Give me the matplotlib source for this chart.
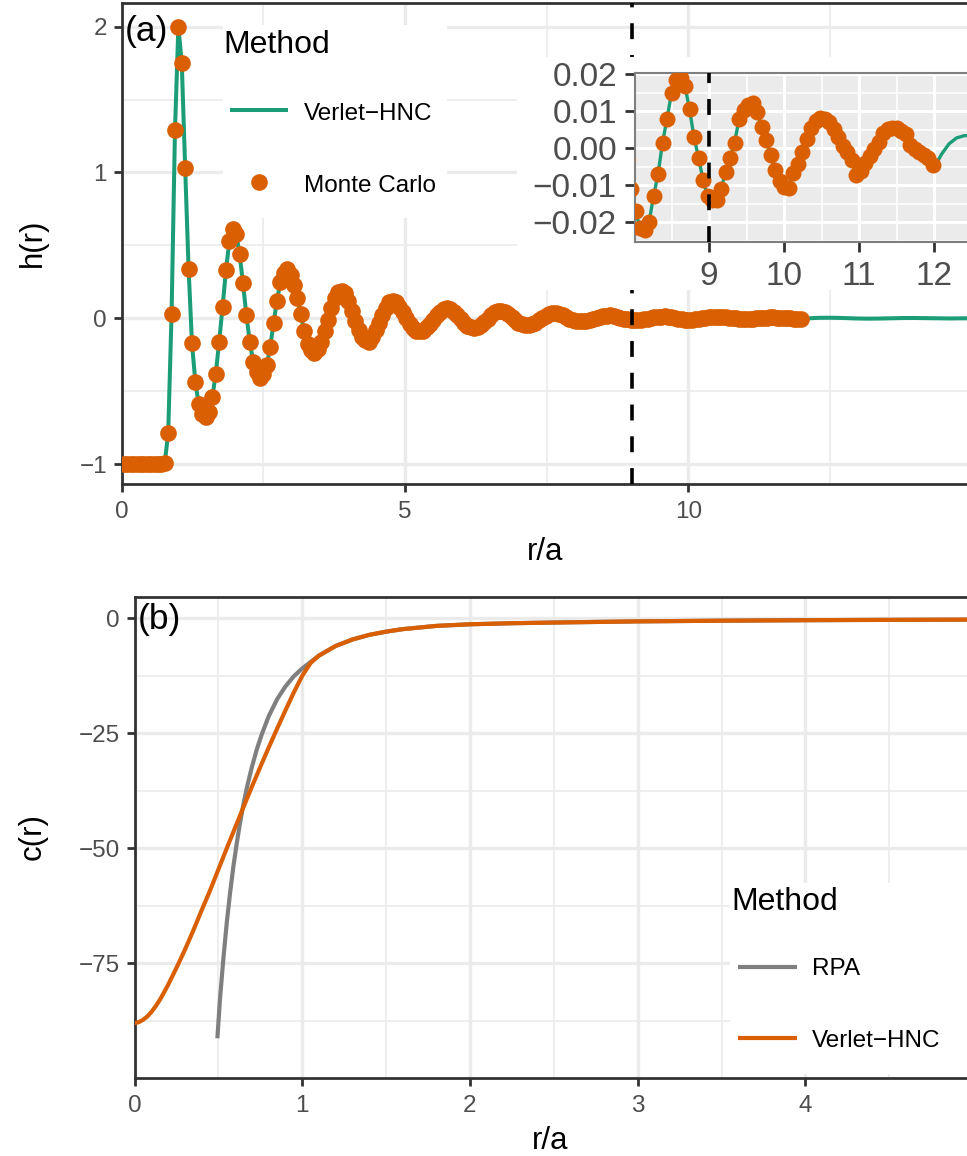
import numpy as np
import matplotlib
matplotlib.use("Agg")
import matplotlib.pyplot as plt
from matplotlib.patches import Rectangle
from matplotlib.lines import Line2D

plt.rcParams['font.family'] = ['Liberation Sans', 'DejaVu Sans']
plt.rcParams['axes.unicode_minus'] = True

# ---------------------------------------------------------------- data
# Monte Carlo pair correlation h(r)
mc_r = [0.04, 0.10, 0.16, 0.22, 0.28, 0.34, 0.40, 0.46, 0.52, 0.58,
        0.64, 0.70, 0.76, 0.82, 0.88, 0.94, 1.00, 1.06, 1.12, 1.18,
        1.24, 1.30, 1.36, 1.42, 1.48, 1.54, 1.60, 1.66, 1.72, 1.78,
        1.84, 1.90, 1.96, 2.02, 2.08, 2.14, 2.20, 2.26, 2.32, 2.38,
        2.44, 2.50, 2.56, 2.62, 2.68, 2.74, 2.80, 2.86, 2.92, 2.98,
        3.04, 3.10, 3.16, 3.22, 3.28, 3.34, 3.40, 3.46, 3.52, 3.58,
        3.64, 3.70, 3.76, 3.82, 3.88, 3.94, 4.00, 4.06, 4.12, 4.18,
        4.24, 4.30, 4.36, 4.42, 4.48, 4.54, 4.60, 4.66, 4.72, 4.78,
        4.84, 4.90, 4.96, 5.02, 5.08, 5.14, 5.20, 5.26, 5.32, 5.38,
        5.44, 5.50, 5.56, 5.62, 5.68, 5.74, 5.80, 5.86, 5.92, 5.98,
        6.04, 6.10, 6.16, 6.22, 6.28, 6.34, 6.40, 6.46, 6.52, 6.58,
        6.64, 6.70, 6.76, 6.82, 6.88, 6.94, 7.00, 7.06, 7.12, 7.18,
        7.24, 7.30, 7.36, 7.42, 7.48, 7.54, 7.60, 7.66, 7.72, 7.78,
        7.84, 7.90, 7.96, 8.02, 8.08, 8.14, 8.20, 8.26, 8.32, 8.38,
        8.44, 8.50, 8.56, 8.62, 8.68, 8.74, 8.80, 8.86, 8.92, 8.98,
        9.04, 9.10, 9.16, 9.22, 9.28, 9.34, 9.40, 9.46, 9.52, 9.58,
        9.64, 9.70, 9.76, 9.82, 9.88, 9.94, 10.00, 10.06, 10.12, 10.18,
        10.24, 10.30, 10.36, 10.42, 10.48, 10.54, 10.60, 10.66, 10.72, 10.78,
        10.84, 10.90, 10.96, 11.02, 11.08, 11.14, 11.20, 11.26, 11.32, 11.38,
        11.44, 11.50, 11.56, 11.62, 11.68, 11.74, 11.80, 11.86, 11.92, 11.98]
mc_h = [-1.00, -1.00, -1.00, -1.00, -1.00, -1.00, -1.00, -1.00, -1.00, -1.00,
        -1.00, -1.00, -0.99, -0.79, 0.03, 1.29, 2.00, 1.75, 1.03, 0.34,
        -0.17, -0.44, -0.59, -0.66, -0.68, -0.64, -0.54, -0.38, -0.16, 0.08,
        0.33, 0.53, 0.61, 0.58, 0.44, 0.24, 0.02, -0.16, -0.30, -0.37,
        -0.41, -0.38, -0.32, -0.20, -0.03, 0.12, 0.25, 0.31, 0.34, 0.30,
        0.23, 0.14, 0.03, -0.09, -0.18, -0.22, -0.24, -0.21, -0.16, -0.09,
        -0.01, 0.07, 0.14, 0.18, 0.19, 0.17, 0.12, 0.05, -0.02, -0.08,
        -0.13, -0.15, -0.16, -0.13, -0.08, -0.03, 0.02, 0.07, 0.11, 0.12,
        0.11, 0.08, 0.04, 0.00, -0.04, -0.07, -0.085, -0.09, -0.085, -0.06,
        -0.04, -0.01, 0.02, 0.045, 0.065, 0.07, 0.065, 0.045, 0.02, -0.005,
        -0.03, -0.05, -0.06, -0.065, -0.06, -0.045, -0.025, -0.005, 0.02, 0.04,
        0.05, 0.05, 0.045, 0.03, 0.01, -0.01, -0.03, -0.04, -0.045, -0.045,
        -0.04, -0.03, -0.015, 0.00, 0.015, 0.028, 0.034, 0.035, 0.03, 0.02,
        0.008, -0.003, -0.011, -0.017, -0.0215, -0.022, -0.020, -0.013, -0.007, 0.0015,
        0.008, 0.015, 0.0185, 0.019, 0.0168, 0.0105, 0.003, -0.0025, -0.0085, -0.013,
        -0.014, -0.014, -0.011, -0.0065, -0.0027, 0.0015, 0.0078, 0.0104, 0.0117, 0.0123,
        0.0098, 0.0057, 0.0022, -0.0018, -0.0058, -0.0089, -0.0104, -0.0106, -0.0068, -0.0042,
        -0.0009, 0.0025, 0.0056, 0.0073, 0.0081, 0.0079, 0.0070, 0.0052, 0.0030, 0.0005,
        -0.0009, -0.0032, -0.0072, -0.0060, -0.0040, -0.0022, -0.0002, 0.0018, 0.0041, 0.0051,
        0.0056, 0.0056, 0.0047, 0.0039, 0.0009, -0.0002, -0.0010, -0.0018, -0.0027, -0.0045]

# Verlet-HNC h(r): follows the simulation grid, then continues beyond r = 12
hnc_tail_r = [12.04, 12.10, 12.20, 12.30, 12.40, 12.50, 12.60, 12.70, 12.80, 12.90,
              13.00, 13.10, 13.20, 13.30, 13.40, 13.50, 13.60, 13.70, 13.80, 13.90,
              14.00, 14.20, 14.40, 14.60, 14.80, 15.00]
hnc_tail_h = [-0.0038, -0.0016, 0.0012, 0.0028, 0.0034, 0.0035, 0.0030, 0.0020, 0.0006, -0.0008,
              -0.0019, -0.0026, -0.0028, -0.0025, -0.0018, -0.0009, 0.0001, 0.0010, 0.0016, 0.0019,
              0.0018, 0.0006, -0.0008, -0.0014, -0.0009, 0.0003]
hnc_r = mc_r + hnc_tail_r
hnc_h = mc_h + hnc_tail_h

# direct correlation function c(r)
c_hnc_r = [0.000, 0.025, 0.050, 0.075, 0.100, 0.125, 0.150, 0.175, 0.200,
           0.250, 0.300, 0.350, 0.400, 0.450, 0.500, 0.550, 0.600, 0.650,
           0.700, 0.750, 0.800, 0.850, 0.900, 0.950, 1.000, 1.050, 1.100,
           1.200, 1.300, 1.400, 1.500, 1.600, 1.800, 2.000, 2.250, 2.500,
           3.000, 3.500, 4.000, 4.500, 5.000, 5.200]
c_hnc = [-88.0, -87.8, -87.3, -86.6, -85.6, -84.4, -83.0, -81.4, -79.7,
         -76.0, -72.1, -67.9, -63.5, -59.2, -54.6, -50.0, -45.5, -41.0,
         -36.6, -32.3, -28.1, -24.0, -20.0, -16.1, -12.5, -9.7, -8.1,
         -6.0, -4.6, -3.6, -2.9, -2.35, -1.65, -1.3, -1.07, -0.92,
         -0.67, -0.52, -0.41, -0.34, -0.29, -0.27]
c_rpa_r = [0.494, 0.51, 0.53, 0.55, 0.57, 0.59, 0.61, 0.63, 0.65, 0.67,
           0.70, 0.73, 0.76, 0.80, 0.85, 0.90, 0.95, 1.00, 1.05, 1.10,
           1.20, 1.30, 1.40, 1.50, 1.60, 1.80, 2.00, 2.25, 2.50, 3.00,
           3.50, 4.00, 4.50, 5.00, 5.20]
c_rpa = [-91.3, -82.6, -73.9, -66.2, -59.6, -53.8, -48.8, -44.3, -40.3, -36.8,
         -32.3, -28.4, -25.1, -21.3, -17.6, -14.8, -12.6, -10.9, -9.5, -8.1,
         -6.0, -4.6, -3.6, -2.9, -2.35, -1.65, -1.3, -1.07, -0.92, -0.67,
         -0.52, -0.41, -0.34, -0.29, -0.27]

h_xticks = [0, 5, 10]
h_yticks = [-1, 0, 1, 2]
c_xticks = [0, 1, 2, 3, 4]
c_yticks = [0, -25, -50, -75]
inset_xticks = [9, 10, 11, 12]
inset_yticks = [-0.02, -0.01, 0.00, 0.01, 0.02]
r_cut = 9

# ---------------------------------------------------------------- style
GREEN = '#1B9E77'
ORANGE = '#D95F02'
GREY_LINE = '#7F7F7F'
GRID = '#EBEBEB'
FRAME = '#333333'
TICKLAB = '#4D4D4D'

W, H, DPI = 967, 1156, 100
fig = plt.figure(figsize=(W / DPI, H / DPI), dpi=DPI)
fig.patch.set_facecolor('white')


def fbox(x0, y0, x1, y1):
    """pixel box (origin top-left) -> figure-fraction rect"""
    return [x0 / W, 1 - y1 / H, (x1 - x0) / W, (y1 - y0) / H]


def fx(x):
    return x / W


def fy(y):
    return 1 - y / H


def minus(v, fmt):
    return fmt.format(v).replace('-', '\u2212')


def style_bw(ax):
    ax.set_facecolor('white')
    for s in ax.spines.values():
        s.set_color(FRAME)
        s.set_linewidth(2.0)
    ax.set_axisbelow(True)
    ax.grid(True, which='major', color=GRID, linewidth=2.4)
    ax.grid(True, which='minor', color=GRID, linewidth=1.2)
    ax.tick_params(which='major', length=6, width=2.0, color=FRAME,
                   labelcolor=TICKLAB, labelsize=17.5)
    ax.tick_params(axis='x', which='major', pad=6)
    ax.tick_params(axis='y', which='major', pad=4.5)
    ax.tick_params(which='minor', length=0)


ax1 = fig.add_axes(fbox(121.7, 2.5, 969, 484), zorder=0)
ax2 = fig.add_axes(fbox(134.5, 597, 969, 1078), zorder=0)
axin = fig.add_axes(fbox(635, 72.7, 1010, 241.7), zorder=3)

LW_H = 2.9
MS = 12

# ---------------------------------------------------------------- panel (a)
style_bw(ax1)
ax1.plot(hnc_r, hnc_h, color=GREEN, lw=LW_H, zorder=2, solid_capstyle='butt')
ax1.plot(mc_r, mc_h, 'o', ms=MS, color=ORANGE, mec='none', zorder=3)
ax1.axvline(r_cut, color='black', lw=2.6, ls=(0, (4.4, 4.4)), zorder=4)
ax1.set_xlim(0, 14.95)
ax1.set_ylim(-1.137, 2.166)
ax1.set_xticks(h_xticks)
ax1.set_xticklabels([str(v) for v in h_xticks])
ax1.set_xticks([2.5, 7.5, 12.5], minor=True)
ax1.set_yticks(h_yticks)
ax1.set_yticklabels([minus(v, '{:d}') for v in h_yticks])
ax1.set_yticks([-0.5, 0.5, 1.5], minor=True)

# white plot area around the zoomed panel
fig.add_artist(Rectangle((fx(517), fy(290)), fx(990) - fx(517), fy(57) - fy(290),
                         transform=fig.transFigure, facecolor='white',
                         edgecolor='none', zorder=2))

axin.set_facecolor(GRID)
for s in axin.spines.values():
    s.set_color('#7F7F7F')
    s.set_linewidth(1.5)
axin.set_axisbelow(True)
axin.grid(True, which='major', color='white', linewidth=2.2)
axin.grid(True, which='minor', color='white', linewidth=1.1)
axin.plot(hnc_r, hnc_h, color=GREEN, lw=2.4, zorder=2)
axin.plot(mc_r, mc_h, 'o', ms=11.5, color=ORANGE, mec='none', zorder=3)
axin.axvline(r_cut, color='black', lw=2.6, ls=(0, (4.4, 4.4)), zorder=4)
axin.set_xlim(8.013, 13.013)
axin.set_ylim(-0.02524, 0.02043)
axin.set_xticks(inset_xticks)
axin.set_xticklabels([str(v) for v in inset_xticks])
axin.set_xticks([8.5, 9.5, 10.5, 11.5, 12.5], minor=True)
axin.set_yticks(inset_yticks)
axin.set_yticklabels([minus(v, '{:.2f}') for v in inset_yticks])
axin.set_yticks([-0.025, -0.015, -0.005, 0.005, 0.015], minor=True)
axin.tick_params(which='major', length=7, width=2.0, color=FRAME,
                 labelcolor=TICKLAB, labelsize=24)
axin.tick_params(axis='x', which='major', pad=7)
axin.tick_params(axis='y', which='major', pad=6)
axin.tick_params(which='minor', length=0)

# ---------------------------------------------------------------- panel (b)
LW_C = 3.0
style_bw(ax2)
ax2.plot(c_rpa_r, c_rpa, color=GREY_LINE, lw=LW_C, zorder=2, solid_capstyle='butt')
ax2.plot(c_hnc_r, c_hnc, color=ORANGE, lw=LW_C, zorder=3, solid_capstyle='butt')
ax2.set_xlim(0, 4.975)
ax2.set_ylim(-99.93, 4.63)
ax2.set_xticks(c_xticks)
ax2.set_xticklabels([str(v) for v in c_xticks])
ax2.set_xticks([0.5, 1.5, 2.5, 3.5, 4.5], minor=True)
ax2.set_yticks(c_yticks)
ax2.set_yticklabels([minus(v, '{:d}') for v in c_yticks])
ax2.set_yticks([-12.5, -37.5, -62.5, -87.5], minor=True)

# ---------------------------------------------------------------- text
TITLE = 22.5
fig.text(fx(545), fy(560), 'r/a', fontsize=TITLE, ha='center', va='baseline')
fig.text(fx(550), fy(1149), 'r/a', fontsize=TITLE, ha='center', va='baseline')
fig.text(fx(33), fy(243), 'h(r)', fontsize=TITLE, rotation=90, ha='center', va='center')
fig.text(fx(33), fy(837), 'c(r)', fontsize=TITLE, rotation=90, ha='center', va='center')
fig.text(fx(125), fy(15), '(a)', fontsize=25.5, ha='left', va='top', zorder=6)
fig.text(fx(138), fy(603), '(b)', fontsize=25.5, ha='left', va='top', zorder=6)

# ---------------------------------------------------------------- legends
LEG_T = 23
LEG_L = 17.5

# panel (a)
fig.add_artist(Rectangle((fx(223), fy(218)), fx(447) - fx(223), fy(25) - fy(218),
                         transform=fig.transFigure, facecolor='white',
                         edgecolor='none', zorder=1.5))
fig.text(fx(223), fy(53), 'Method', fontsize=LEG_T, ha='left', va='baseline', zorder=5)
fig.add_artist(Line2D([fx(230), fx(288)], [fy(110), fy(110)], transform=fig.transFigure,
                      color=GREEN, lw=LW_H, solid_capstyle='butt', zorder=4))
fig.add_artist(Line2D([fx(259)], [fy(182)], transform=fig.transFigure, marker='o',
                      ms=MS, color=ORANGE, mec='none', ls='none', zorder=4))
fig.text(fx(304), fy(120), 'Verlet\u2212HNC', fontsize=LEG_L, ha='left', va='baseline', zorder=5)
fig.text(fx(304), fy(192), 'Monte Carlo', fontsize=LEG_L, ha='left', va='baseline', zorder=5)

# panel (b)
fig.add_artist(Rectangle((fx(730), fy(1074)), fx(990) - fx(730), fy(883) - fy(1074),
                         transform=fig.transFigure, facecolor='white',
                         edgecolor='none', zorder=1.5))
fig.text(fx(731), fy(910), 'Method', fontsize=LEG_T, ha='left', va='baseline', zorder=5)
fig.add_artist(Line2D([fx(738), fx(797)], [fy(966.5), fy(966.5)], transform=fig.transFigure,
                      color=GREY_LINE, lw=LW_C, solid_capstyle='butt', zorder=4))
fig.add_artist(Line2D([fx(738), fx(797)], [fy(1038), fy(1038)], transform=fig.transFigure,
                      color=ORANGE, lw=LW_C, solid_capstyle='butt', zorder=4))
fig.text(fx(812), fy(975), 'RPA', fontsize=LEG_L, ha='left', va='baseline', zorder=5)
fig.text(fx(812), fy(1047), 'Verlet\u2212HNC', fontsize=LEG_L, ha='left', va='baseline', zorder=5)

fig.savefig('out.png', dpi=DPI, facecolor='white')
